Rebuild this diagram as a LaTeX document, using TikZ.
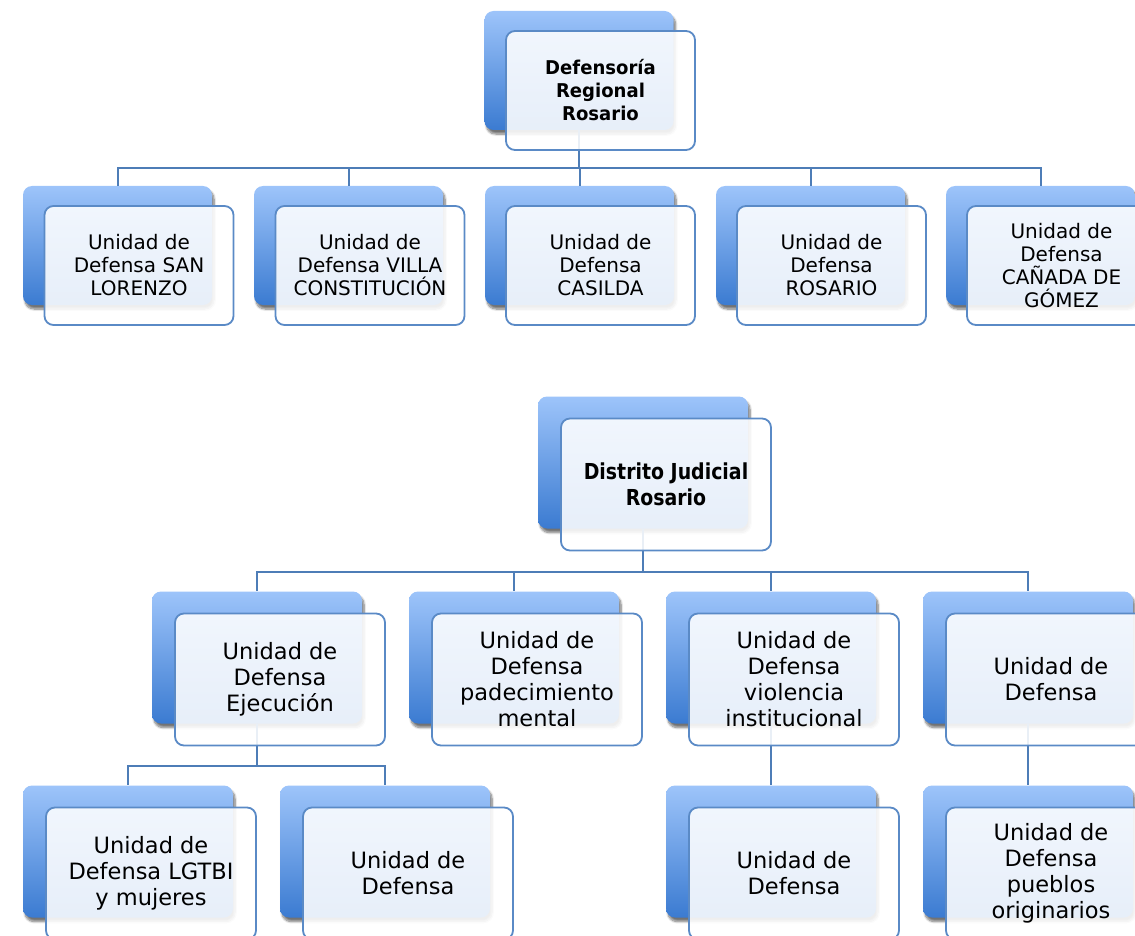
\documentclass[tikz,border=0pt]{standalone}
\usepackage{fontspec}
\setmainfont{DejaVu Sans}
\newfontfamily\rootA[FakeStretch=0.95]{DejaVu Sans Bold}
\newfontfamily\rootB[FakeStretch=0.86]{DejaVu Sans Bold}
\usetikzlibrary{shadows.blur}
\definecolor{backtop}{HTML}{9DC4FA}
\definecolor{backbot}{HTML}{3B7BD1}
\definecolor{edgec}{HTML}{5A8AC6}
\definecolor{linec}{HTML}{4E7DB7}
\tikzset{
  backbox/.style={rounded corners=9pt, top color=backtop, bottom color=backbot, draw=none, inner sep=0pt,
    blur shadow={shadow blur steps=8, shadow xshift=2pt, shadow yshift=-4pt, shadow opacity=55}},
  frontbox/.style={rounded corners=9pt, draw=edgec, line width=1.8pt, fill=white, fill opacity=0.88,
    text opacity=1, text=black, align=center, inner sep=0pt},
  topsize/.style={minimum width=189pt, minimum height=119pt},
  botsize/.style={minimum width=210pt, minimum height=132pt},
  toptext/.style={font=\fontsize{20}{23}\selectfont},
  bottext/.style={font=\fontsize{22.5}{26}\selectfont},
  conn/.style={draw=linec, line width=2pt}
}
\begin{document}
\begin{tikzpicture}[x=1pt,y=-1pt]
\useasboundingbox (0,0) rectangle (1135,936);
\clip (0,0) rectangle (1135,936);
% ---------- back boxes ----------
\node[backbox, topsize] (rb) at (579,70.5) {};
\node[backbox, topsize] (b11) at (117.5,245.5) {};
\node[backbox, topsize] (b12) at (348.5,245.5) {};
\node[backbox, topsize] (b13) at (579.5,245.5) {};
\node[backbox, topsize] (b14) at (810.5,245.5) {};
\node[backbox, topsize] (b15) at (1040.5,245.5) {};
\node[backbox, botsize] (rd) at (643,462.5) {};
\node[backbox, botsize] (b21) at (257,657.5) {};
\node[backbox, botsize] (b22) at (514,657.5) {};
\node[backbox, botsize] (b23) at (771,657.5) {};
\node[backbox, botsize] (b24) at (1028,657.5) {};
\node[backbox, botsize] (b31) at (128,851.5) {};
\node[backbox, botsize] (b32) at (385,851.5) {};
\node[backbox, botsize] (b33) at (771,851.5) {};
\node[backbox, botsize] (b34) at (1028,851.5) {};
% ---------- connectors ----------
\coordinate (bus1) at (0,168);
\coordinate (bus2) at (0,572);
\coordinate (bus3) at (0,766);
\foreach \c in {b11,b12,b13,b14,b15}
  \draw[conn] (rb.south) -- (rb.south |- bus1) -| (\c.north);
\foreach \c in {b21,b22,b23,b24}
  \draw[conn] (rd.south) -- (rd.south |- bus2) -| (\c.north);
\foreach \c in {b31,b32}
  \draw[conn] (b21.south) -- (b21.south |- bus3) -| (\c.north);
\draw[conn] (b23.south) -- (b33.north);
\draw[conn] (b24.south) -- (b34.north);
% ---------- front boxes ----------
\node[frontbox, topsize, font=\rootA\fontsize{19}{23}\selectfont] (fr) at (600.5,90.5) {Defensoría\\Regional\\Rosario};
\node[frontbox, topsize, toptext] (f11) at (139,265.5) {Unidad de\\Defensa SAN\\LORENZO};
\node[frontbox, topsize, toptext] (f12) at (370,265.5) {Unidad de\\Defensa VILLA\\CONSTITUCIÓN};
\node[frontbox, topsize, toptext] (f13) at (600.5,265.5) {Unidad de\\Defensa\\CASILDA};
\node[frontbox, topsize, toptext] (f14) at (831.5,265.5) {Unidad de\\Defensa\\ROSARIO};
\node[frontbox, topsize, toptext] (f15) at (1061.5,265.5) {Unidad de\\Defensa\\CAÑADA DE\\GÓMEZ};
\node[frontbox, botsize, font=\rootB\fontsize{22}{26}\selectfont] (fd) at (666,484.5) {Distrito Judicial\\Rosario};
\node[frontbox, botsize, bottext] (f21) at (280,679.5) {Unidad de\\Defensa\\Ejecución};
\node[frontbox, botsize, bottext] (f22) at (537,679.5) {Unidad de\\Defensa\\padecimiento\\mental};
\node[frontbox, botsize, bottext] (f23) at (794,679.5) {Unidad de\\Defensa\\violencia\\institucional};
\node[frontbox, botsize, bottext] (f24) at (1051,679.5) {Unidad de\\Defensa};
\node[frontbox, botsize, bottext] (f31) at (151,873.5) {Unidad de\\Defensa LGTBI\\y mujeres};
\node[frontbox, botsize, bottext] (f32) at (408,873.5) {Unidad de\\Defensa};
\node[frontbox, botsize, bottext] (f33) at (794,873.5) {Unidad de\\Defensa};
\node[frontbox, botsize, bottext] (f34) at (1051,873.5) {Unidad de\\Defensa\\pueblos\\originarios};
\end{tikzpicture}
\end{document}
